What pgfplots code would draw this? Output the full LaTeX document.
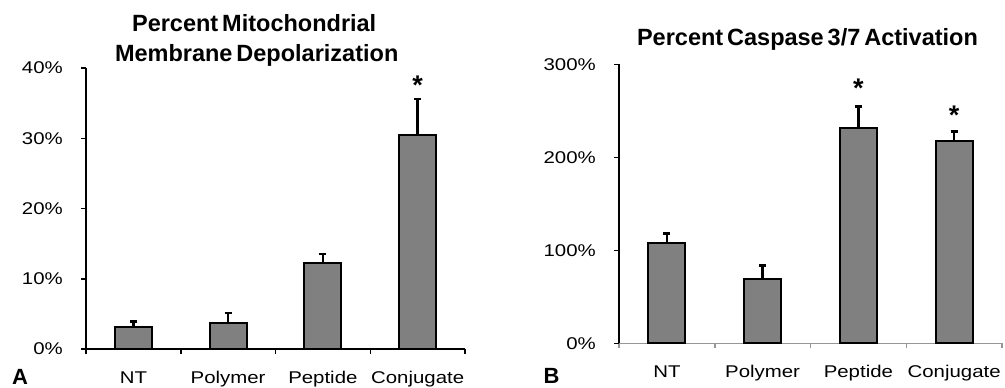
\documentclass[border=0pt]{standalone}
\usepackage{pgfplots}
\pgfplotsset{compat=1.18}
\usepackage{fontspec}
\setmainfont{Liberation Sans}
\newfontfamily\wide[FakeStretch=1.2]{Liberation Sans}
\newfontfamily\ttl[WordSpace=0.6]{Liberation Sans}
\definecolor{barfill}{RGB}{128,128,128}
\definecolor{axgray}{RGB}{150,150,150}

\begin{document}
\begin{tikzpicture}
\path[use as bounding box] (0bp,0bp) rectangle (1005bp,388bp);
\pgfplotsset{
  myax/.style={
    scale only axis, anchor=south west,
    axis x line*=bottom, axis y line*=left,
    axis line style={line width=1.5bp,-},
    xmin=-0.5, xmax=3.5,
    xtick={-0.5,0.5,1.5,2.5,3.5}, xticklabels={},
    extra x ticks={0,1,2,3},
    extra x tick labels={NT,Polymer,Peptide,Conjugate},
    extra x tick style={major tick length=0pt, xticklabel style={anchor=base, yshift=-34bp}},
    tick align=outside, major tick length=5bp,
    tick style={line width=1.5bp, black},
    ymin=0, ybar, bar width=37bp,
    tick label style={font=\fontsize{17bp}{20bp}\wide},
    yticklabel style={anchor=east, inner sep=0pt, xshift=-18bp},
    clip=false,
  },
  mybar/.style={fill=barfill, draw=black, line width=2bp,
    error bars/.cd, y dir=plus, y explicit,
    error bar style={line width=2.5bp, black},
    error mark options={rotate=90, mark size=3.5bp, line width=2.5bp, black}},
}
\pgfplotstableread{
x y e
0 3.2 0.7
1 3.75 1.35
2 12.25 1.25
3 30.5 5.1
}\tabA
\pgfplotstableread{
x y e
0 107.5 10.5
1 69 14.4
2 231.8 22.6
3 217 11
}\tabB

% Panel A
\begin{axis}[myax, at={(86bp,39bp)}, width=379bp, height=281bp,
  ymax=40, ytick={0,10,20,30,40},
  yticklabel={\pgfmathprintnumber[assume math mode=true]{\tick}\%}]
\addplot[mybar] table[x=x, y=y, y error=e] {\tabA};
\node[anchor=base, font=\fontsize{27bp}{28bp}\bfseries, yshift=-15bp] at (axis cs:3,38.3) {*};
\end{axis}

% Panel B
\begin{axis}[myax, at={(619bp,44.7bp)}, width=383bp, height=279bp,
  ymax=300, ytick={0,100,200,300},
  x axis line style={axgray},
  xtick style={axgray},
  yticklabel={\pgfmathprintnumber[assume math mode=true]{\tick}\%}]
\addplot[mybar] table[x=x, y=y, y error=e] {\tabB};
\node[anchor=base, font=\fontsize{27bp}{28bp}\bfseries, yshift=-15bp] at (axis cs:2,280.2) {*};
\node[anchor=base, font=\fontsize{27bp}{28bp}\bfseries, yshift=-15bp] at (axis cs:3,250.9) {*};
\end{axis}

% Titles and panel letters
\node[anchor=base, font=\fontsize{23.5bp}{26bp}\ttl\bfseries] at (254.2bp,356.3bp) {Percent Mitochondrial};
\node[anchor=base, font=\fontsize{23.5bp}{26bp}\ttl\bfseries] at (256.7bp,326.3bp) {Membrane Depolarization};
\node[anchor=base, font=\fontsize{23.5bp}{26bp}\ttl\bfseries] at (807.5bp,342.3bp) {Percent Caspase 3/7 Activation};
\node[anchor=base, font=\fontsize{22bp}{24bp}\bfseries] at (20bp,3.5bp) {A};
\node[anchor=base, font=\fontsize{22bp}{24bp}\bfseries] at (551.5bp,5bp) {B};
\end{tikzpicture}
\end{document}
